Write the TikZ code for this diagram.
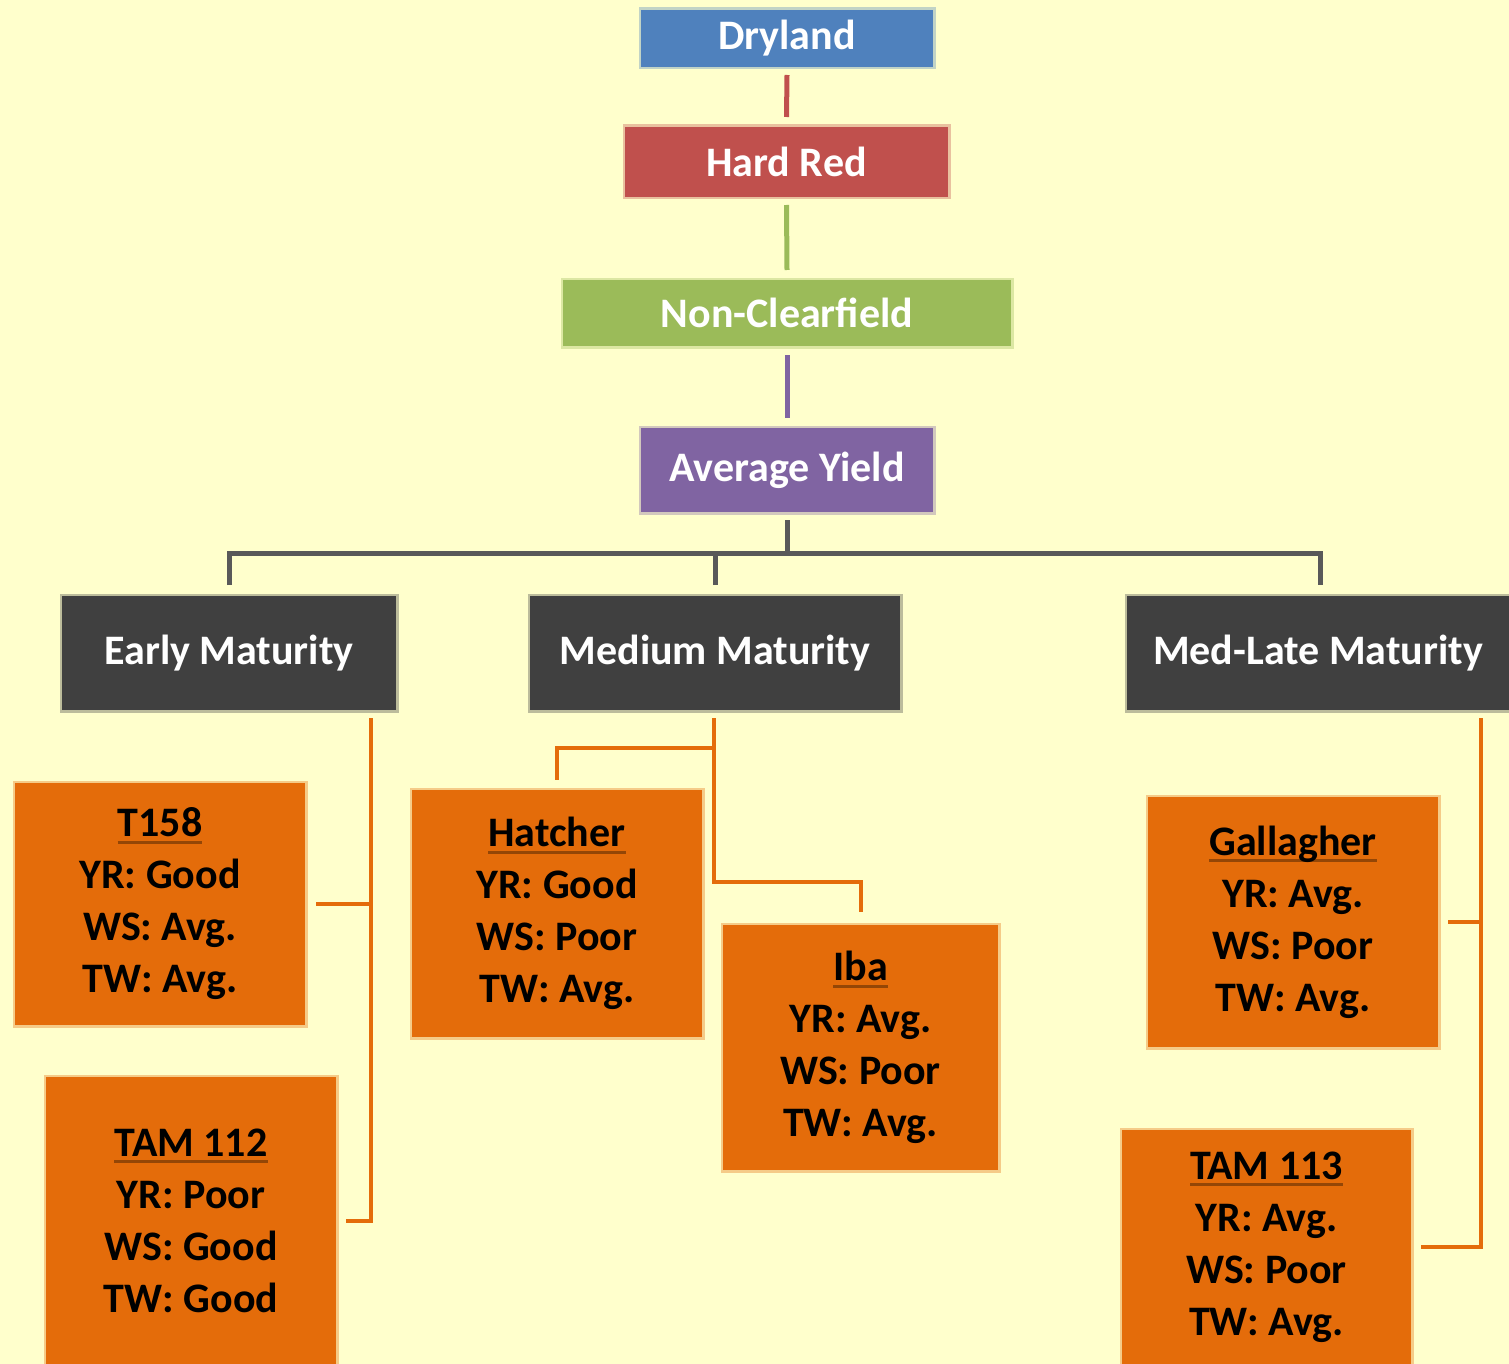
\documentclass[tikz,border=0pt]{standalone}
\usepackage{fontspec}
\setmainfont{Carlito}
\definecolor{bgc}{HTML}{FFFFCC}
\definecolor{cblue}{HTML}{4F81BD}
\definecolor{cred}{HTML}{C0504D}
\definecolor{cgreen}{HTML}{9BBB59}
\definecolor{cpurple}{HTML}{8064A2}
\definecolor{cdark}{HTML}{404040}
\definecolor{corange}{HTML}{E46C0A}
\definecolor{cgray}{HTML}{595959}
\newcommand{\myul}[1]{\setbox0\hbox{#1}\rlap{\rule[-7pt]{\wd0}{3pt}}\box0}
\tikzset{
  box/.style={rectangle, inner sep=0pt, outer sep=0pt, line width=5pt, draw opacity=0.35,
    font=\fontsize{42}{52}\selectfont\bfseries, align=center},
  topbox/.style={box, fill=#1, draw=#1, text=white},
  varbox/.style={box, fill=corange, draw=corange, text=black},
  grayline/.style={draw=cgray, line width=5pt},
  orline/.style={draw=corange, line width=4pt},
}
\begin{document}
\begin{tikzpicture}[x=1pt,y=-1pt]
\fill[bgc] (0,0) rectangle (1509,1364);
\useasboundingbox (0,0) rectangle (1509,1364);

\node[topbox=cblue, minimum width=292pt, minimum height=57pt] (dry) at (787,38.5) {Dryland};
\node[topbox=cred, minimum width=323pt, minimum height=70pt] (hr) at (786.5,162) {Hard Red};
\node[topbox=cgreen, minimum width=448pt, minimum height=66pt] (nc) at (787,313) {Non-Clearfield};
\node[topbox=cpurple, minimum width=292pt, minimum height=84pt] (ay) at (787,470) {Average Yield};

\node[topbox=cdark, minimum width=334pt, minimum height=114pt] (em) at (229,653) {Early Maturity};
\node[topbox=cdark, minimum width=370pt, minimum height=114pt] (mm) at (715,653) {Medium Maturity};
\node[topbox=cdark, minimum width=382pt, minimum height=114pt] (ml) at (1318,653) {Med-Late Maturity};

\node[varbox, minimum width=290pt, minimum height=242pt] (t158) at (160,904)
  {\myul{T158}\\YR: Good\\WS: Avg.\\TW: Avg.};
\node[varbox, minimum width=290pt, minimum height=287pt] (tam112) at (191,1220.5)
  {\myul{TAM 112}\\YR: Poor\\WS: Good\\TW: Good};
\node[varbox, minimum width=290pt, minimum height=247pt] (hat) at (557,913.5)
  {\myul{Hatcher}\\YR: Good\\WS: Poor\\TW: Avg.};
\node[varbox, minimum width=275pt, minimum height=245pt] (iba) at (860.5,1047.5)
  {\myul{Iba}\\YR: Avg.\\WS: Poor\\TW: Avg.};
\node[varbox, minimum width=290pt, minimum height=250pt] (gal) at (1293,922)
  {\myul{Gallagher}\\YR: Avg.\\WS: Poor\\TW: Avg.};
\node[varbox, minimum width=289pt, minimum height=234pt] (tam113) at (1266.5,1247)
  {\myul{TAM 113}\\YR: Avg.\\WS: Poor\\TW: Avg.};

% top chain
\draw[draw=cred, line width=5pt] ([yshift=-8pt]dry.south) -- ([yshift=10pt]hr.north);
\draw[draw=cgreen, line width=5pt] ([yshift=-8pt]hr.south) -- ([yshift=10pt]nc.north);
\draw[draw=cpurple, line width=5pt] ([yshift=-9pt]nc.south) -- ([yshift=10pt]ay.north);

% maturity bus
\coordinate (bus) at (787,553);
\draw[grayline] ([yshift=-8pt]ay.south) -- (bus);
\draw[grayline] ([yshift=11pt]em.north) -- (em.north |- bus) -- ([xshift=2pt]ml.north |- bus) -- ([xshift=2pt,yshift=11pt]ml.north);
\draw[grayline] ([yshift=11pt]mm.north) -- (mm.north |- bus);

% early
\draw[orline] ([xshift=-25pt,yshift=-8pt]em.south east) coordinate (ea) |- ([xshift=10pt]tam112.east);
\draw[orline] ([xshift=11pt]t158.east) -- (t158.east -| ea);

% medium
\draw[orline] ([xshift=-1pt,yshift=-8pt]mm.south) |- ([yshift=43pt]iba.north) -- ([yshift=13pt]iba.north);
\draw[orline] ([xshift=-1pt,yshift=-38pt]mm.south) -| ([yshift=10pt]hat.north);

% med-late
\draw[orline] ([xshift=-28pt,yshift=-8pt]ml.south east) coordinate (ma) |- ([xshift=10pt]tam113.east);
\draw[orline] ([xshift=10pt]gal.east) -- (gal.east -| ma);
\end{tikzpicture}
\end{document}
